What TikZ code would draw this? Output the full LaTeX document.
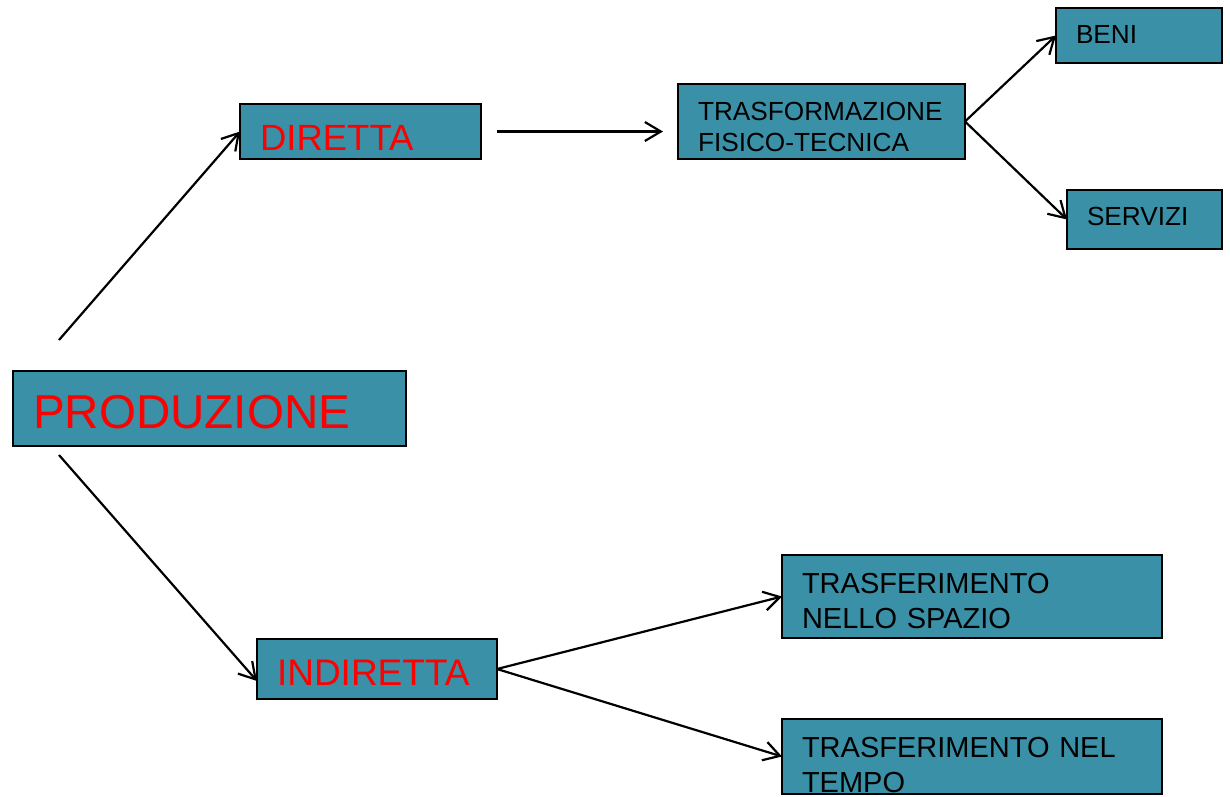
\documentclass[tikz,border=0pt]{standalone}
\usepackage{fontspec}
\setmainfont{Liberation Sans}
\usetikzlibrary{arrows.meta}
\definecolor{boxfill}{RGB}{58,144,166}
\definecolor{boxred}{RGB}{255,0,0}
\tikzset{
  tbox/.style={draw=black, line width=1.5pt, fill=boxfill, anchor=north west,
    inner xsep=20pt, inner ysep=0pt, align=left, outer sep=0pt},
  arr/.style={line width=2.2pt, -{Straight Barb[length=16pt,width=19pt,line width=2.2pt]}},
}
\begin{document}
\begin{tikzpicture}[x=1pt,y=-1pt]
\useasboundingbox (0,0) rectangle (1230,796);

\node[tbox, text width=353pt, text height=57pt, text depth=18pt,
  font=\fontsize{47.6}{56}\selectfont, text=boxred] (prod) at (13,371) {PRODUZIONE};
\node[tbox, text width=201pt, text height=46pt, text depth=9pt,
  font=\fontsize{36.5}{43}\selectfont, text=boxred] (diretta) at (240,104) {DIRETTA};
\node[tbox, text width=200pt, text height=46pt, text depth=14pt,
  font=\fontsize{37}{43}\selectfont, text=boxred] (indiretta) at (257,639) {INDIRETTA};
\node[tbox, text width=247pt, text height=36pt, text depth=39pt,
  font=\fontsize{26.2}{31}\selectfont] (trasf) at (678,84) {TRASFORMAZIONE\\FISICO-TECNICA};
\node[tbox, text width=126pt, text height=35pt, text depth=20pt,
  font=\fontsize{26.2}{31}\selectfont] (beni) at (1056,8) {BENI};
\node[tbox, text width=115pt, text height=35pt, text depth=24pt,
  font=\fontsize{26.2}{31}\selectfont] (servizi) at (1067,190) {SERVIZI};
\node[tbox, text width=340pt, text height=38pt, text depth=45pt,
  font=\fontsize{29}{35}\selectfont] (spazio) at (782,555) {TRASFERIMENTO\\NELLO SPAZIO};
\node[tbox, text width=340pt, text height=38pt, text depth=37pt,
  font=\fontsize{29}{35}\selectfont] (tempo) at (782,719) {TRASFERIMENTO NEL\\TEMPO};

\coordinate (produp) at (59,340);
\coordinate (proddown) at (59,455);

\draw[arr] (produp) -- (diretta.west);
\draw[arr] (proddown) -- ([yshift=-12pt]indiretta.west);
\draw[arr] ([xshift=16pt]diretta.east) -- ([xshift=-15pt]trasf.west |- diretta.east);
\draw[arr] (trasf.east) -- (beni.west);
\draw[arr] (trasf.east) -- (servizi.west);
\draw[arr] (indiretta.east) -- (spazio.west);
\draw[arr] (indiretta.east) -- (tempo.west);
\end{tikzpicture}
\end{document}
